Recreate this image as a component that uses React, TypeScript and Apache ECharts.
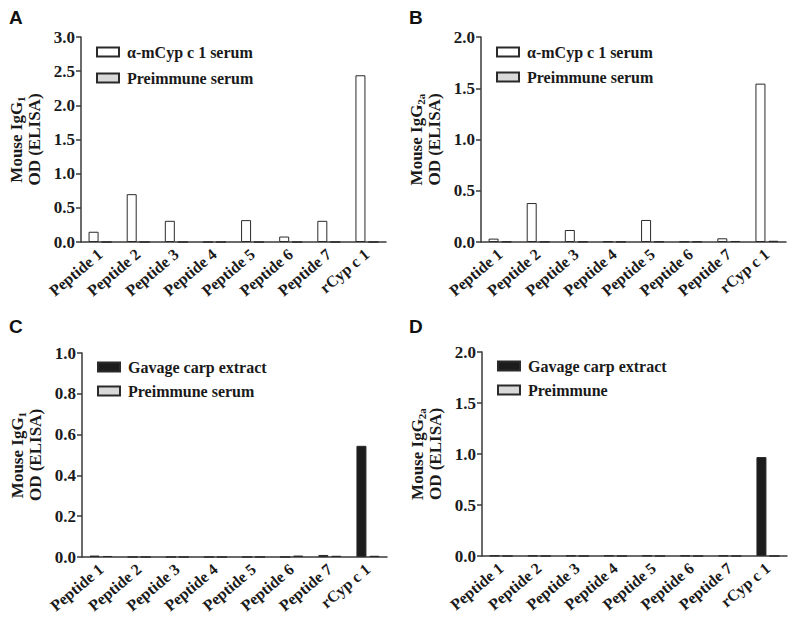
import React, { useEffect, useRef } from "react";
import * as echarts from "echarts";

const categories = ["Peptide 1", "Peptide 2", "Peptide 3", "Peptide 4", "Peptide 5", "Peptide 6", "Peptide 7", "rCyp c 1"];

const aImmune = [0.15, 0.70, 0.31, 0, 0.32, 0.08, 0.31, 2.44];
const aPre = [0, 0, 0, 0, 0, 0, 0, 0];
const bImmune = [0.033, 0.38, 0.117, 0.006, 0.215, 0.005, 0.036, 1.545];
const bPre = [0.004, 0.003, 0.004, 0.003, 0.005, 0.005, 0.01, 0.012];
const cGavage = [0.007, 0, 0, 0, 0, 0, 0.01, 0.545];
const cPre = [0.005, 0, 0, 0, 0, 0.007, 0.006, 0.006];
const dGavage = [0.004, 0.004, 0.004, 0.004, 0.004, 0.004, 0.004, 0.97];
const dPre = [0, 0, 0, 0, 0, 0, 0, 0];

const aTicks = { max: 3.0, interval: 0.5 };
const bTicks = { max: 2.0, interval: 0.5 };
const cTicks = { max: 1.0, interval: 0.2 };
const dTicks = { max: 2.0, interval: 0.5 };

const immuneName = "α-mCyp c 1 serum";
const gavageName = "Gavage carp extract";
const preSerumName = "Preimmune serum";
const preName = "Preimmune";

const SERIF = "'Liberation Serif', 'Times New Roman', serif";
const SANS = "'Liberation Sans', Arial, sans-serif";
const INK = "#1a1a1a";
const AXIS = "#3a3a3a";

const panels = [
  { grid: { left: 81, top: 37, width: 305, height: 205 }, ticks: aTicks, sub: "1", s1: immuneName, s2: preSerumName, d1: aImmune, d2: aPre, c1: "#ffffff", legendTop: 44, gap: 10 },
  { grid: { left: 481, top: 37, width: 305, height: 205 }, ticks: bTicks, sub: "2a", s1: immuneName, s2: preSerumName, d1: bImmune, d2: bPre, c1: "#ffffff", legendTop: 44, gap: 9 },
  { grid: { left: 82, top: 353, width: 305, height: 204 }, ticks: cTicks, sub: "1", s1: gavageName, s2: preSerumName, d1: cGavage, d2: cPre, c1: "#1c1c1c", legendTop: 359, gap: 8 },
  { grid: { left: 482, top: 352, width: 305, height: 204 }, ticks: dTicks, sub: "2a", s1: gavageName, s2: preName, d1: dGavage, d2: dPre, c1: "#1c1c1c", legendTop: 358, gap: 8 },
];

export default function App() {
  const ref = useRef<HTMLDivElement>(null);
  useEffect(() => {
    if (!ref.current) return;
    const chart = echarts.init(ref.current, null, { renderer: "svg" });
    const grid: any[] = [];
    const xAxis: any[] = [];
    const yAxis: any[] = [];
    const series: any[] = [];
    const legend: any[] = [];
    panels.forEach((p, i) => {
      grid.push({ ...p.grid });
      xAxis.push({
        type: "category",
        gridIndex: i,
        data: categories,
        axisLine: { lineStyle: { color: AXIS, width: 1.5 } },
        axisTick: { alignWithLabel: true, length: 7, lineStyle: { color: AXIS, width: 1.5 } },
        axisLabel: { rotate: 40, margin: 10, fontFamily: SERIF, fontWeight: "bold", fontSize: 16, color: INK, interval: 0 },
      });
      yAxis.push({
        type: "value",
        gridIndex: i,
        min: 0,
        max: p.ticks.max,
        interval: p.ticks.interval,
        splitLine: { show: false },
        axisLine: { show: true, lineStyle: { color: AXIS, width: 1.5 } },
        axisTick: { show: true, length: 5, lineStyle: { color: AXIS, width: 1.5 } },
        axisLabel: { margin: 6, fontFamily: SERIF, fontWeight: "bold", fontSize: 17, color: INK, formatter: (v: number) => v.toFixed(1) },
        name: `{a|Mouse IgG}{s|${p.sub}}\n{b|OD (ELISA)}`,
        nameLocation: "middle",
        nameGap: 38,
        nameRotate: 90,
        nameTextStyle: {
          fontFamily: SERIF,
          fontWeight: "bold",
          fontSize: 17,
          color: INK,
          align: "center",
          rich: {
            a: { fontFamily: SERIF, fontWeight: "bold", fontSize: 17, color: INK, lineHeight: 18, verticalAlign: "top" },
            s: { fontFamily: SERIF, fontWeight: "bold", fontSize: 11, color: INK, lineHeight: 11, verticalAlign: "bottom" },
            b: { fontFamily: SERIF, fontWeight: "bold", fontSize: 17, color: INK, lineHeight: 17 },
          },
        },
      });
      series.push({
        type: "bar",
        name: p.s1,
        xAxisIndex: i,
        yAxisIndex: i,
        data: p.d1,
        barWidth: 10,
        barGap: "30%",
        itemStyle: { color: p.c1, borderColor: "#2a2a2a", borderWidth: 1 },
        silent: true,
      });
      series.push({
        type: "bar",
        name: p.s2,
        xAxisIndex: i,
        yAxisIndex: i,
        data: p.d2,
        barWidth: 10,
        barGap: "30%",
        itemStyle: { color: "#d9d9d9", borderColor: "#2a2a2a", borderWidth: 1 },
        silent: true,
      });
      legend.push({
        orient: "vertical",
        left: p.grid.left + 15,
        top: p.legendTop,
        padding: 0,
        data: [p.s1, p.s2],
        itemWidth: 22,
        itemHeight: 9,
        itemGap: p.gap,
        icon: "rect",
        selectedMode: false,
        textStyle: { fontFamily: SERIF, fontWeight: "bold", fontSize: 16, color: INK, lineHeight: 16, padding: [0, 0, 0, 3] },
      });
    });
    const letters = [
      { t: "A", x: 9, y: 19 },
      { t: "B", x: 409, y: 19 },
      { t: "C", x: 9, y: 328 },
      { t: "D", x: 409, y: 328 },
    ];
    chart.setOption({
      animation: false,
      backgroundColor: "#ffffff",
      grid,
      xAxis,
      yAxis,
      series,
      legend,
      graphic: letters.map((l) => ({
        type: "text",
        left: l.x,
        top: l.y - 11,
        style: { text: l.t, fontFamily: SANS, fontWeight: "bold", fontSize: 19, fill: "#111" },
      })),
    });
    return () => chart.dispose();
  }, []);
  return <div ref={ref} style={{ position: "fixed", left: 0, top: 0, width: 800, height: 631 }} />;
}
